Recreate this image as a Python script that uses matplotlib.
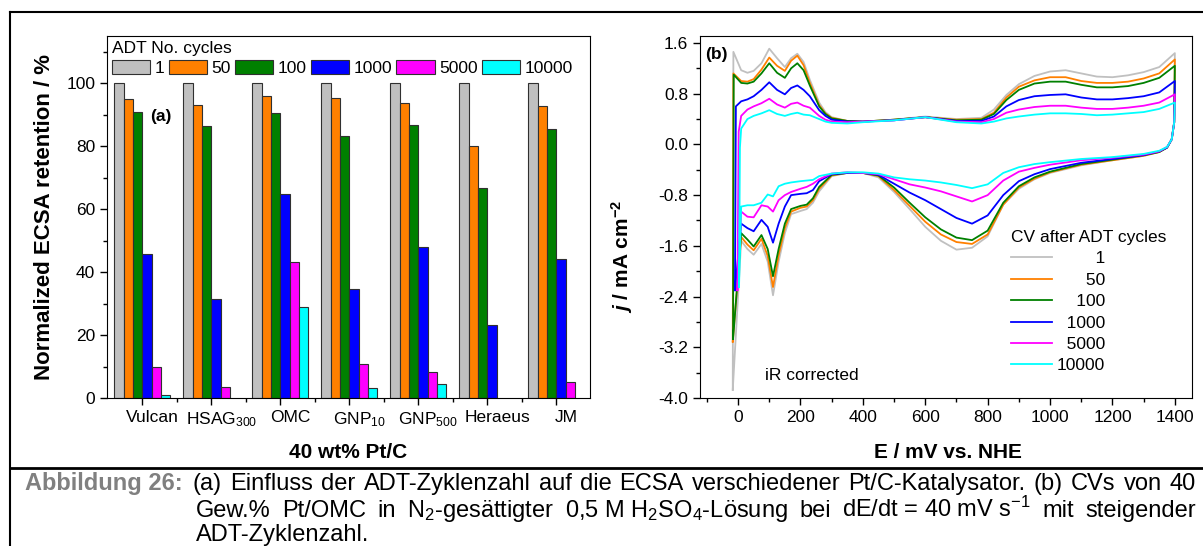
import numpy as np
import matplotlib
matplotlib.use('Agg')
import matplotlib.pyplot as plt
from matplotlib.ticker import MultipleLocator, FuncFormatter
from matplotlib.lines import Line2D
import matplotlib.transforms as mtransforms

plt.rcParams['font.family'] = ['Liberation Sans', 'DejaVu Sans']
plt.rcParams['mathtext.fontset'] = 'custom'
plt.rcParams['mathtext.rm'] = 'Liberation Sans'
plt.rcParams['mathtext.it'] = 'Liberation Sans:italic'
plt.rcParams['mathtext.bf'] = 'Liberation Sans:bold'
plt.rcParams['mathtext.bfit'] = 'Liberation Sans:italic:bold'
plt.rcParams['mathtext.sf'] = 'Liberation Sans'
plt.rcParams['mathtext.default'] = 'regular'

# ---------------- data: panel (a) ----------------
catalysts = ['Vulcan', 'HSAG$_{300}$', 'OMC', 'GNP$_{10}$', 'GNP$_{500}$', 'Heraeus', 'JM']
cycles = ['1', '50', '100', '1000', '5000', '10000']
ret_1 = [100, 100, 100, 100, 100, 100, 100]
ret_50 = [95.0, 93.2, 95.9, 95.2, 93.8, 80.2, 92.8]
ret_100 = [90.7, 86.5, 90.4, 83.3, 86.8, 66.6, 85.6]
ret_1000 = [45.7, 31.6, 64.9, 34.7, 48.1, 23.3, 44.0]
ret_5000 = [10.0, 3.4, 43.1, 10.7, 8.3, 0, 5.1]
ret_10000 = [1.1, 0, 29.0, 3.2, 4.3, 0, 0]
colors = ['#c0c0c0', '#ff8000', '#008000', '#0000ff', '#ff00ff', '#00ffff']

# ---------------- data: panel (b) ----------------
E_up = [10, 30, 50, 75, 100, 125, 150, 170, 190, 210, 230, 260, 280, 300, 350, 400, 500,
        600, 700, 780, 820, 860, 900, 950, 1000, 1050, 1100, 1150, 1200, 1250, 1300, 1350, 1400]
j_up_1 = [1.17, 1.13, 1.16, 1.28, 1.51, 1.36, 1.22, 1.36, 1.43, 1.30, 1.02, 0.66, 0.51, 0.43, 0.37, 0.36, 0.39,
          0.44, 0.40, 0.42, 0.55, 0.78, 0.95, 1.08, 1.15, 1.17, 1.12, 1.07, 1.06, 1.09, 1.14, 1.22, 1.44]
j_up_50 = [1.00, 0.99, 1.03, 1.18, 1.37, 1.24, 1.16, 1.32, 1.40, 1.25, 0.97, 0.62, 0.49, 0.42, 0.37, 0.36, 0.39,
           0.43, 0.39, 0.40, 0.50, 0.74, 0.91, 1.01, 1.06, 1.06, 1.00, 0.97, 0.97, 0.99, 1.04, 1.12, 1.34]
j_up_100 = [0.97, 0.96, 0.99, 1.12, 1.28, 1.13, 1.05, 1.20, 1.28, 1.17, 0.93, 0.60, 0.48, 0.41, 0.37, 0.36, 0.39,
            0.43, 0.38, 0.39, 0.48, 0.70, 0.86, 0.96, 0.99, 0.99, 0.94, 0.90, 0.90, 0.92, 0.97, 1.05, 1.24]
j_up_1000 = [0.68, 0.71, 0.76, 0.86, 0.98, 0.86, 0.79, 0.89, 0.93, 0.86, 0.76, 0.54, 0.45, 0.39, 0.36, 0.36, 0.38,
             0.43, 0.37, 0.37, 0.44, 0.60, 0.70, 0.76, 0.78, 0.79, 0.74, 0.71, 0.71, 0.73, 0.76, 0.82, 1.00]
j_up_5000 = [0.45, 0.55, 0.60, 0.65, 0.72, 0.63, 0.58, 0.64, 0.66, 0.61, 0.58, 0.45, 0.39, 0.36, 0.35, 0.36, 0.38,
             0.43, 0.36, 0.35, 0.40, 0.50, 0.55, 0.59, 0.61, 0.61, 0.58, 0.56, 0.56, 0.58, 0.61, 0.66, 0.79]
j_up_10000 = [0.25, 0.40, 0.45, 0.49, 0.54, 0.48, 0.45, 0.48, 0.50, 0.47, 0.46, 0.40, 0.36, 0.34, 0.33, 0.35, 0.38,
              0.43, 0.35, 0.33, 0.36, 0.41, 0.44, 0.47, 0.49, 0.49, 0.48, 0.46, 0.47, 0.49, 0.51, 0.56, 0.66]

E_down = [1398, 1390, 1375, 1350, 1300, 1200, 1100, 1000, 950, 900, 850, 800, 750, 700, 650, 600, 550, 500,
          450, 400, 350, 300, 260, 240, 220, 200, 170, 150, 130, 112, 95, 75, 50, 30, 10]
j_dn_1 = [0.35, 0.08, -0.05, -0.12, -0.18, -0.25, -0.33, -0.45, -0.55, -0.70, -0.95, -1.45, -1.63, -1.66, -1.52,
          -1.30, -1.02, -0.75, -0.52, -0.45, -0.45, -0.50, -0.74, -0.92, -1.02, -1.05, -1.10, -1.40, -1.85, -2.38,
          -1.85, -1.57, -1.74, -1.65, -1.52]
j_dn_50 = [0.35, 0.08, -0.05, -0.12, -0.18, -0.25, -0.32, -0.44, -0.54, -0.68, -0.95, -1.42, -1.57, -1.54, -1.42,
           -1.22, -0.97, -0.72, -0.50, -0.45, -0.45, -0.49, -0.70, -0.88, -0.98, -1.00, -1.06, -1.32, -1.75, -2.25,
           -1.76, -1.49, -1.67, -1.58, -1.46]
j_dn_100 = [0.35, 0.08, -0.05, -0.12, -0.17, -0.24, -0.31, -0.43, -0.52, -0.66, -0.92, -1.36, -1.51, -1.47, -1.34,
            -1.15, -0.92, -0.68, -0.49, -0.45, -0.45, -0.48, -0.67, -0.85, -0.95, -0.97, -1.02, -1.25, -1.65, -2.08,
            -1.65, -1.43, -1.61, -1.50, -1.40]
j_dn_1000 = [0.35, 0.08, -0.05, -0.11, -0.17, -0.23, -0.29, -0.39, -0.47, -0.58, -0.80, -1.12, -1.25, -1.16, -1.02,
             -0.88, -0.76, -0.62, -0.48, -0.45, -0.45, -0.47, -0.58, -0.72, -0.77, -0.78, -0.80, -0.98, -1.25, -1.55,
             -1.30, -1.19, -1.37, -1.32, -1.25]
j_dn_5000 = [0.35, 0.08, -0.04, -0.11, -0.16, -0.21, -0.25, -0.32, -0.37, -0.43, -0.57, -0.80, -0.90, -0.82, -0.74,
             -0.68, -0.63, -0.55, -0.47, -0.45, -0.44, -0.46, -0.55, -0.62, -0.67, -0.70, -0.75, -0.80, -0.88, -1.06,
             -0.98, -0.96, -1.15, -1.14, -1.06]
j_dn_10000 = [0.35, 0.08, -0.04, -0.10, -0.15, -0.20, -0.23, -0.28, -0.31, -0.36, -0.45, -0.63, -0.69, -0.64, -0.60,
              -0.57, -0.55, -0.52, -0.46, -0.44, -0.44, -0.46, -0.50, -0.56, -0.57, -0.58, -0.60, -0.62, -0.66, -0.82,
              -0.79, -0.92, -0.96, -0.96, -0.98]

E_turn = [-17, -17, -16, -10, -2, 3]
j_turn = [-3.87, -3.11, -3.07, -2.30, -2.30, -2.25]
E_rise = [-15, -15, -14, -7, 2, 6]
j_rise = [1.46, 1.12, 1.10, 0.60, 0.20, -0.05]

W, H = 1203, 546
fig = plt.figure(figsize=(W / 100, H / 100), dpi=100)

FS_TICK = 12.5
FS_LAB = 15

# ---------------- panel (a) ----------------
axL = fig.add_axes([107 / W, 1 - 398 / H, (590 - 107) / W, (398 - 36) / H])
series = [ret_1, ret_50, ret_100, ret_1000, ret_5000, ret_10000]
xg = np.arange(1, len(catalysts) + 1)
bw = 0.135
for k, (vals, c, lab) in enumerate(zip(series, colors, cycles)):
    v = np.asarray(vals, float)
    m = v > 0
    axL.bar(xg[m] + (k - 2.5) * bw, v[m], width=bw, color=c, edgecolor='#303030',
            linewidth=0.8, label=lab)
axL.set_xlim(0.49, 7.49)
axL.set_ylim(0, 115)
axL.set_xticks(xg)
axL.set_xticklabels(catalysts)
axL.set_xticks(np.arange(1.5, 7.5, 1), minor=True)
axL.set_yticks(np.arange(0, 101, 20))
axL.yaxis.set_minor_locator(MultipleLocator(10))
axL.tick_params(which='both', direction='out', width=1, labelsize=FS_TICK, top=False, right=False)
axL.tick_params(which='major', length=5)
axL.tick_params(which='minor', length=3)
off = mtransforms.ScaledTranslation(10 / 100, 0, fig.dpi_scale_trans)
for lab in axL.get_xticklabels():
    lab.set_transform(lab.get_transform() + off)
axL.set_ylabel('Normalized ECSA retention / %', fontsize=16, fontweight='bold')
axL.yaxis.set_label_coords(-0.108, 0.5)
axL.set_xlabel('40 wt% Pt/C', fontsize=FS_LAB, fontweight='bold')
axL.xaxis.label.set_va('center')
axL.xaxis.set_label_coords(0.5, -(453 - 398) / 362)
axL.legend(title='ADT No. cycles', ncol=6, loc='upper left', bbox_to_anchor=(0, 1), frameon=False,
           fontsize=12.5, title_fontsize=12.5, handlelength=2.2, handleheight=0.9, handletextpad=0.25,
           columnspacing=0.25, borderpad=0.2, borderaxespad=0.1, alignment='left', labelspacing=0.2)
axL.text((161 - 107) / 483, (398 - 117) / 362, '(a)', transform=axL.transAxes, fontsize=FS_TICK,
         fontweight='bold', ha='center', va='center')

# ---------------- panel (b) ----------------
axR = fig.add_axes([700 / W, 1 - 398 / H, (1192 - 700) / W, (398 - 36) / H])
ups = [j_up_1, j_up_50, j_up_100, j_up_1000, j_up_5000, j_up_10000]
dns = [j_dn_1, j_dn_50, j_dn_100, j_dn_1000, j_dn_5000, j_dn_10000]
handles = []
for i in range(6):
    E = [E_turn[i], E_rise[i]] + E_up + E_down + [E_turn[i]]
    J = [j_turn[i], j_rise[i]] + ups[i] + dns[i] + [j_turn[i]]
    h, = axR.plot(E, J, color=colors[i], lw=1.3)
    handles.append(h)
axR.set_xlim(-122, 1455)
axR.set_ylim(-4.0, 1.71)
axR.set_xticks(np.arange(0, 1401, 200))
axR.xaxis.set_minor_locator(MultipleLocator(100))
axR.set_yticks(np.arange(-4.0, 1.61, 0.8))
axR.yaxis.set_minor_locator(MultipleLocator(0.4))
axR.yaxis.set_major_formatter(FuncFormatter(lambda v, p: '0.0' if abs(v) < 1e-9 else f'{v:.1f}'))
axR.tick_params(which='both', direction='out', width=1, labelsize=FS_TICK, top=False, right=False)
axR.tick_params(which='major', length=5)
axR.tick_params(which='minor', length=3)
axR.set_xlabel('E / mV vs. NHE', fontsize=FS_LAB, fontweight='bold')
axR.xaxis.label.set_va('center')
axR.xaxis.set_label_coords(0.504, -(452 - 398) / 362)
axR.set_ylabel(r'$\mathbfit{j}$ / mA cm$^{\mathbf{-2}}$', fontsize=FS_LAB, fontweight='bold')
axR.yaxis.set_label_coords((635 - 700) / 492, (398 - 256) / 362)
labs = ['\u2007' * (5 - len(c)) + c for c in cycles]
axR.legend(handles, labs, title='CV after ADT cycles', loc='upper left',
           bbox_to_anchor=((1011 - 700) / 492, (398 - 230) / 362), frameon=False,
           fontsize=FS_TICK, title_fontsize=FS_TICK, handlelength=2.35, handletextpad=0.3,
           labelspacing=0.36, alignment='left', borderpad=0, borderaxespad=0)
axR.text((716 - 700) / 492, (398 - 55) / 362, '(b)', transform=axR.transAxes, fontsize=FS_TICK,
         fontweight='bold', ha='center', va='center')
axR.text((812 - 700) / 492, (398 - 376) / 362, 'iR corrected', transform=axR.transAxes,
         fontsize=FS_TICK, ha='center', va='center')

# ---------------- frame lines ----------------
fig.add_artist(Line2D([10 / W, 1], [1 - 12 / H, 1 - 12 / H], transform=fig.transFigure, color='black', lw=1.5))
fig.add_artist(Line2D([10 / W, 10 / W], [1 - 12 / H, 0], transform=fig.transFigure, color='black', lw=1.5))
fig.add_artist(Line2D([10 / W, 1], [1 - 468 / H, 1 - 468 / H], transform=fig.transFigure, color='black', lw=2))

# ---------------- caption ----------------
FS_CAP = 17
fig.text(25 / W, 1 - 490 / H, 'Abbildung 26:', color='#808080', fontsize=FS_CAP, fontweight='bold',
         ha='left', va='baseline')

renderer = fig.canvas.get_renderer()


def justify(words, x0, x1, ybase):
    ts = [fig.text(0, 1 - ybase / H, w, fontsize=FS_CAP, ha='left', va='baseline') for w in words]
    widths = [t.get_window_extent(renderer).width for t in ts]
    gap = ((x1 - x0) - sum(widths)) / max(len(words) - 1, 1)
    x = x0
    for t, w in zip(ts, widths):
        t.set_x(x / W)
        x += w + gap


line1 = '(a) Einfluss der ADT-Zyklenzahl auf die ECSA verschiedener Pt/C-Katalysator. (b) CVs von 40'.split()
line2 = ['Gew.%', 'Pt/OMC', 'in', 'N$_2$-gesättigter', '0,5 M H$_2$SO$_4$-Lösung', 'bei',
         'dE/dt = 40 mV s$^{-1}$', 'mit', 'steigender']
justify(line1, 193, 1196, 490)
justify(line2, 196, 1196, 517)
fig.text(196 / W, 1 - 541 / H, 'ADT-Zyklenzahl.', fontsize=FS_CAP, ha='left', va='baseline')

fig.savefig('out.png', dpi=100)
